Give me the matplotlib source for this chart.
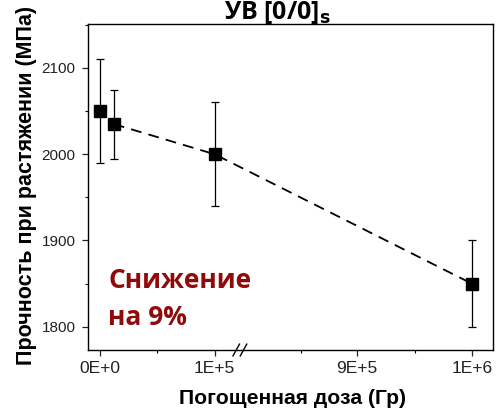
import numpy as np
import matplotlib
matplotlib.use("Agg")
import matplotlib.pyplot as plt
from matplotlib.ticker import FixedLocator, NullFormatter

plt.rcParams['font.family'] = ['Liberation Sans', 'DejaVu Sans']

# Data
dose = [0, 1.2e4, 1e5, 1e6]
strength = [2050, 2035, 2000, 1850]
err = [60, 40, 60, 50]
xticks = [0, 1e5, 9e5, 1e6]
xticklabels = ["0E+0", "1E+5", "9E+5", "1E+6"]
yticks = [1800, 1900, 2000, 2100]

# broken-axis scale (piecewise linear)
_dpts = np.array([0, 1e5, 9e5, 1e6])
_ppts = np.array([0, 1.0, 2.245, 3.245])

def fwd(x):
    x = np.asarray(x, dtype=float)
    return np.interp(x, _dpts, _ppts) + \
        np.where(x < 0, x / 1e5, 0) + np.where(x > 1e6, (x - 1e6) / 1e5, 0)

def inv(p):
    p = np.asarray(p, dtype=float)
    return np.interp(p, _ppts, _dpts) + \
        np.where(p < 0, p * 1e5, 0) + np.where(p > 3.245, (p - 3.245) * 1e5, 0)

fig = plt.figure(figsize=(4.96, 4.13), dpi=100)
ax = fig.add_axes([88/496, 1 - 350/413, (493-88)/496, (350-24)/413])
ax.set_xscale("function", functions=(fwd, inv))

ax.errorbar(dose[0], strength[0], yerr=err[0], fmt="s", color="black",
            markersize=8.5, capsize=3, elinewidth=0.9, capthick=0.9)
ax.errorbar(dose[1:], strength[1:], yerr=err[1:], fmt="s", color="black",
            markersize=8.5, capsize=3, elinewidth=0.9, capthick=0.9,
            ls=(0, (6, 4)), lw=1.3)

ax.set_xlim(inv(-0.105), inv(3.43))
ax.set_ylim(1773, 2151)

ax.set_xticks(xticks)
ax.set_xticklabels(xticklabels)
ax.xaxis.set_minor_locator(FixedLocator(list(inv(np.array([0.5, 1.75, 2.745])))))
ax.xaxis.set_minor_formatter(NullFormatter())
ax.set_yticks(yticks)
ax.yaxis.set_minor_locator(FixedLocator([1800 + 50 * i for i in range(-1, 8)]))

ax.tick_params(axis="both", which="major", direction="out", length=4, width=0.9,
               colors="#222222")
ax.tick_params(axis="x", which="major", labelsize=12.5, pad=4)
ax.tick_params(axis="y", which="major", labelsize=11, pad=5)
ax.tick_params(axis="both", which="minor", direction="out", length=2.5, width=0.8)
for s in ax.spines.values():
    s.set_linewidth(1.0)

# break marks (two slanted strokes across the bottom spine)
for dx in (-0.009, 0.009):
    ax.plot([0.375 + dx - 0.008, 0.375 + dx + 0.008], [-0.018, 0.018],
            transform=ax.transAxes, color="black", lw=1.0, clip_on=False)

ax.set_xlabel("Погощенная доза (Гр)", fontsize=15.2, fontweight="bold")
ax.xaxis.set_label_coords(0.506, -0.12)
ax.set_ylabel("Прочность при растяжении (МПа)", fontsize=15.5, fontweight="bold")
ax.yaxis.set_label_coords(-0.126, 0.506)

ax.text(0.05, 0.190, "Снижение", transform=ax.transAxes, fontsize=19,
        fontweight="bold", color="#8f0a0a", family="Open Sans", va="baseline",
        ha="left")
ax.text(0.05, 0.077, "на 9%", transform=ax.transAxes, fontsize=19,
        fontweight="bold", color="#8f0a0a", family="Open Sans", va="baseline",
        ha="left")

fig.text(277/496, 1 - 19/413, r"УВ [0/0]$_\mathbf{s}$", ha="center", va="baseline",
         fontsize=18, fontweight="bold", family="Open Sans")

fig.savefig("out.png", dpi=100)
